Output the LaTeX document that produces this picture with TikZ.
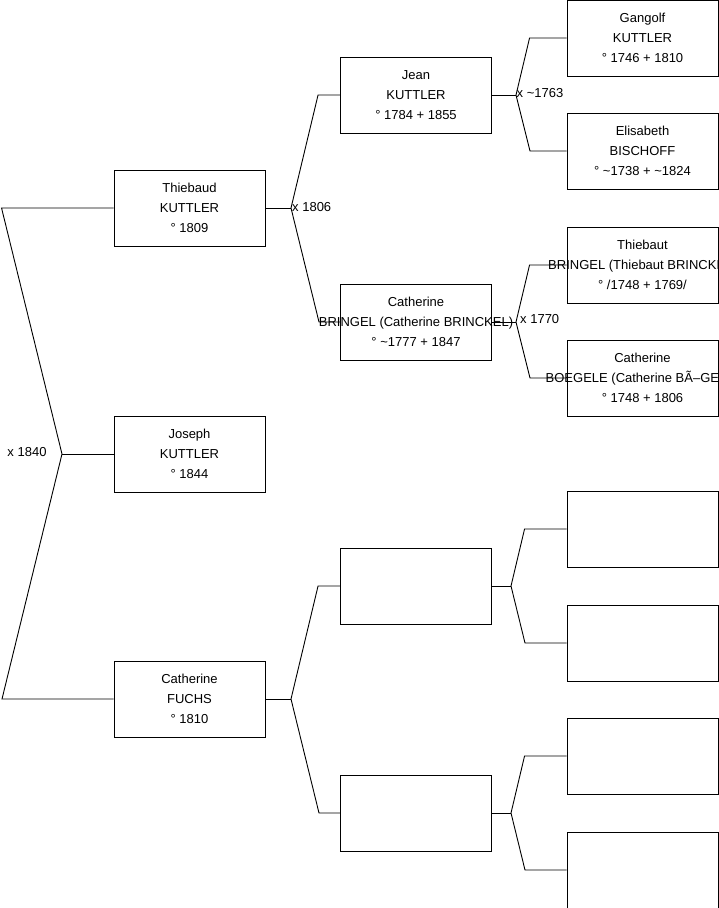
\documentclass[tikz,border=0pt]{standalone}
\usepackage{fontspec}
\setmainfont{Liberation Sans}
\usepackage{tikz}
\newcommand{\overlong}[1]{\makebox[0pt]{#1}}

\begin{document}
\begin{tikzpicture}[x=1pt, y=-1pt, font=\fontsize{13}{20}\selectfont,
  person/.style={draw, line width=0.9pt, minimum width=151pt,
    minimum height=76pt, align=center, inner sep=0pt},
  link/.style={line width=0.9pt},
  mlbl/.style={anchor=west, inner sep=0pt}]
\useasboundingbox (0,0) rectangle (719,908);
% Children
\node[person] (thiebaud) at (189.5,208) {Thiebaud\\KUTTLER\\° 1809};
\node[person] (joseph)   at (189.5,454) {Joseph\\KUTTLER\\° 1844};
\node[person] (fuchs)    at (189.5,699) {Catherine\\FUCHS\\° 1810};
% Parents
\node[person] (jean)     at (416,95)
  {Jean\\KUTTLER\\° 1784 + 1855};
\node[person] (cbringel) at (416,322)
  {Catherine\\\overlong{BRINGEL (Catherine BRINCKEL)}\\° \textasciitilde1777 + 1847};
\node[person] (fuchsF)   at (416,586) {};
\node[person] (fuchsM)   at (416,813) {};
% Grandparents
\node[person] (gangolf)   at (642.5,38)
  {Gangolf\\KUTTLER\\° 1746 + 1810};
\node[person] (elisabeth) at (642.5,151)
  {Elisabeth\\BISCHOFF\\° \textasciitilde1738 + \textasciitilde1824};
\node[person] (tbringel)  at (642.5,265)
  {Thiebaut\\\overlong{BRINGEL (Thiebaut BRINCKEL)}\\° /1748 + 1769/};
\node[person] (boegele)   at (642.5,378)
  {Catherine\\\overlong{BOEGELE (Catherine BÃ–GELE)}\\° 1748 + 1806};
\node[person] (ffF) at (642.5,529) {};
\node[person] (ffM) at (642.5,643) {};
\node[person] (fmF) at (642.5,756) {};
\node[person] (fmM) at (642.5,870) {};
% Marriage forks
\coordinate (m1840)  at (62,454);
\coordinate (m1806)  at (291,208);
\coordinate (mfuchs) at (291,699);
\coordinate (m1763)  at (516,95);
\coordinate (m1770)  at (516,322);
\coordinate (mF)     at (511,586);
\coordinate (mM)     at (511,813);
\draw[link] (thiebaud.west) -- ++(-112,0) -- (m1840) -- ++(-60,245) -- (fuchs.west);
\draw[link] (m1840) -- (joseph.west);
\draw[link] (thiebaud.east) -- (m1806);
\draw[link] (jean.west) -- ++(-22,0) -- (m1806) -- ++(28,114) -- (cbringel.west);
\draw[link] (fuchs.east) -- (mfuchs);
\draw[link] (fuchsF.west) -- ++(-22,0) -- (mfuchs) -- ++(28,114) -- (fuchsM.west);
\draw[link] (jean.east) -- (m1763);
\draw[link] (gangolf.west) -- ++(-37,0) -- (m1763) -- ++(14,56) -- (elisabeth.west);
\draw[link] (cbringel.east) -- (m1770);
\draw[link] (tbringel.west) -- ++(-37,0) -- (m1770) -- ++(14,56) -- (boegele.west);
\draw[link] (fuchsF.east) -- (mF);
\draw[link] (ffF.west) -- ++(-42,0) -- (mF) -- ++(14,57) -- (ffM.west);
\draw[link] (fuchsM.east) -- (mM);
\draw[link] (fmF.west) -- ++(-42,0) -- (mM) -- ++(14,57) -- (fmM.west);
% Marriage dates
\node (l1840) at (27,452) {x 1840};
\node[mlbl] (l1806) at (292,207) {x 1806};
\node[mlbl] (l1763) at (516.5,93) {x \textasciitilde1763};
\node[mlbl] (l1770) at (520,319) {x 1770};
\end{tikzpicture}
\end{document}
